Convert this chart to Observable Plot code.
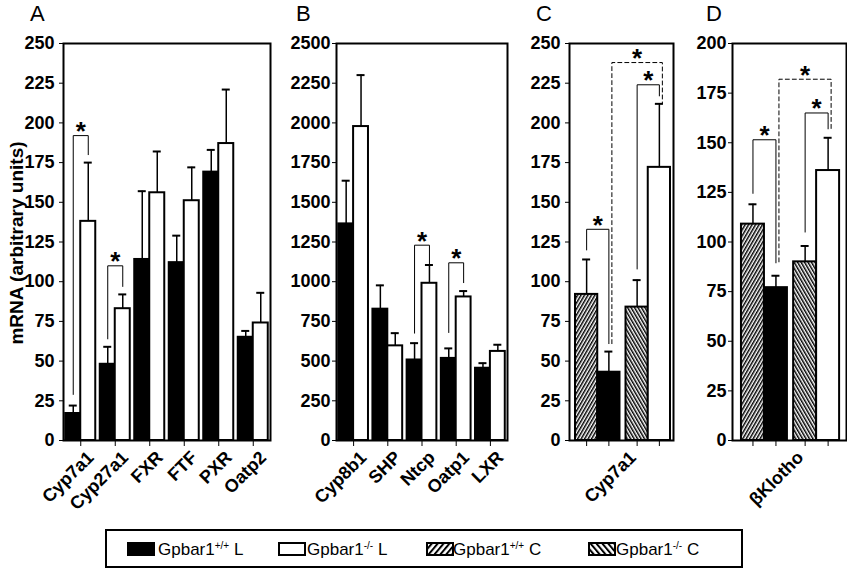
<!DOCTYPE html>
<html>
<head>
<meta charset="utf-8">
<script src="https://cdn.jsdelivr.net/npm/d3@7"></script>
<script src="https://cdn.jsdelivr.net/npm/@observablehq/plot@0.6"></script>
<style>
  html, body { margin: 0; padding: 0; background: #fff; }
  #wrap { position: relative; width: 847px; height: 570px; overflow: hidden; font-family: "Liberation Sans", Arial, sans-serif; color: #000; }
  .panel { position: absolute; top: 0; }
  .panel g[aria-label$="tick label"] text { font-size: 18px !important; font-weight: bold; }
  .letter { position: absolute; top: 3px; font-size: 22px; line-height: 22px; font-weight: normal; }
  .ylab { position: absolute; left: 17px; top: 243px; transform: translate(-50%, -50%) rotate(-90deg); white-space: nowrap; font-size: 19px; font-weight: bold; }
  .lg { position: absolute; font-size: 17px; line-height: 17px; white-space: nowrap; }
  .lg sup { font-size: 10px; vertical-align: 6px; line-height: 0; }
  .sw { position: absolute; }
</style>
</head>
<body>
<svg width="0" height="0" style="position:absolute">
  <defs>
    <pattern id="hatchF" patternUnits="userSpaceOnUse" width="3" height="10" patternTransform="rotate(30)">
      <rect width="3" height="10" fill="white"/><rect width="1.5" height="10" fill="black"/>
    </pattern>
    <pattern id="hatchB" patternUnits="userSpaceOnUse" width="3" height="10" patternTransform="rotate(-30)">
      <rect width="3" height="10" fill="white"/><rect width="1.5" height="10" fill="black"/>
    </pattern>
    <pattern id="hatchF2" patternUnits="userSpaceOnUse" width="4.5" height="10" patternTransform="rotate(40)">
      <rect width="4.5" height="10" fill="white"/><rect width="2" height="10" fill="black"/>
    </pattern>
    <pattern id="hatchB2" patternUnits="userSpaceOnUse" width="4.5" height="10" patternTransform="rotate(-40)">
      <rect width="4.5" height="10" fill="white"/><rect width="2" height="10" fill="black"/>
    </pattern>
  </defs>
</svg>
<div id="wrap"></div>
<script>
// ---------------- data ----------------
// Panel A
const catsA = ["Cyp7a1", "Cyp27a1", "FXR", "FTF", "PXR", "Oatp2"];
const wtA = [17, 48, 114, 112, 169, 65];
const wtErrA = [22, 59, 157, 129, 183, 69];
const koA = [138, 83, 156, 151, 187, 74];
const koErrA = [175, 92, 182, 172, 221, 93];
const bracketsA = [
  { cat: 0, yFrom: 29, yTop: 192, yTo: 180 },
  { cat: 1, yFrom: 64, yTop: 110, yTo: 97 }
];
const ticksA = [0, 25, 50, 75, 100, 125, 150, 175, 200, 225, 250];

// Panel B
const catsB = ["Cyp8b1", "SHP", "Ntcp", "Oatp1", "LXR"];
const wtB = [1364, 827, 507, 517, 455];
const wtErrB = [1636, 977, 613, 580, 487];
const koB = [1977, 596, 990, 904, 561];
const koErrB = [2301, 676, 1105, 941, 603];
const bracketsB = [
  { cat: 2, yFrom: 676, yTop: 1230, yTo: 1112 },
  { cat: 3, yFrom: 680, yTop: 1119, yTo: 994 }
];
const ticksB = [0, 250, 500, 750, 1000, 1250, 1500, 1750, 2000, 2250, 2500];

// Panels C and D (bar order: Gpbar1+/+ C, Gpbar1+/+ L, Gpbar1-/- C, Gpbar1-/- L)
const groupsCD = ["wtC", "wtL", "koC", "koL"];
const fillsCD = ["url(#hatchF)", "black", "url(#hatchB)", "white"];
const labelC = "Cyp7a1";
const valC = [92, 43, 84, 172];
const errC = [114, 56, 101, 212];
const bracketsC = [
  { from: 0, to: 1, yFrom: 120, yTop: 133, yTo: 61, dashed: false },
  { from: 2, to: 3, yFrom: 108, yTop: 224, yTo: 217, dashed: false },
  { from: 1, to: 3, yFrom: 61, yTop: 238, yTo: 212, dashed: true }
];
const ticksC = [0, 25, 50, 75, 100, 125, 150, 175, 200, 225, 250];

const labelD = "βKlotho";
const valD = [109, 77, 90, 136];
const errD = [119, 83, 98, 152.5];
const bracketsD = [
  { from: 0, to: 1, yFrom: 124.5, yTop: 151.5, yTo: 89.5, dashed: false },
  { from: 2, to: 3, yFrom: 105, yTop: 165, yTo: 157, dashed: false },
  { from: 1, to: 3, yFrom: 90, yTop: 182, yTo: 157, dashed: true }
];
const ticksD = [0, 25, 50, 75, 100, 125, 150, 175, 200];

const legendItems = [
  { fill: "black", base: "Gpbar1", sup: "+/+", suffix: " L" },
  { fill: "white", base: "Gpbar1", sup: "-/-", suffix: " L" },
  { fill: "url(#hatchF2)", base: "Gpbar1", sup: "+/+", suffix: " C" },
  { fill: "url(#hatchB2)", base: "Gpbar1", sup: "-/-", suffix: " C" }
];

// ---------------- helpers ----------------
const FONT = '"Liberation Sans", Arial, sans-serif';
const HALF = 0.435; // fraction of a category slot per bar (paired panels)
const GAP = 0.27;   // gap between pairs in C/D (in bar units)

function pairedRows(cats, wt, wtErr, ko, koErr) {
  const rows = [];
  cats.forEach((c, i) => {
    rows.push({ x1: i - HALF, x2: i, c: i - HALF / 2, y: wt[i], err: wtErr[i], fill: "black" });
    rows.push({ x1: i, x2: i + HALF, c: i + HALF / 2, y: ko[i], err: koErr[i], fill: "white" });
  });
  return rows;
}
function pairedPaths(brackets) {
  const pts = [];
  brackets.forEach((b, k) => {
    const xl = b.cat - HALF / 2, xr = b.cat + HALF / 2;
    pts.push({ id: k, x: xl, y: b.yFrom }, { id: k, x: xl, y: b.yTop }, { id: k, x: xr, y: b.yTop }, { id: k, x: xr, y: b.yTo });
  });
  return pts;
}
const posCD = groupsCD.map((g, j) => j + (j >= 2 ? GAP : 0));
function cdRows(vals, errs) {
  return groupsCD.map((g, j) => ({ x1: posCD[j] - 0.5, x2: posCD[j] + 0.5, c: posCD[j], y: vals[j], err: errs[j], fill: fillsCD[j] }));
}
function cdPaths(brackets, dashed) {
  const pts = [];
  brackets.forEach((b, k) => {
    if (b.dashed !== dashed) return;
    const xl = posCD[b.from], xr = posCD[b.to];
    pts.push({ id: k, x: xl, y: b.yFrom }, { id: k, x: xl, y: b.yTop }, { id: k, x: xr, y: b.yTop }, { id: k, x: xr, y: b.yTo });
  });
  return pts;
}

function panel({ rows, solid, dashed, stars, dashedStars, xDomain, tickPos, labelPos, labelFmt, yDomain, yTicks, yPad, width, marginLeft, marginRight }) {
  const marks = [
    Plot.rectY(rows, { x1: "x1", x2: "x2", y: "y", fill: "fill", stroke: "black", strokeWidth: 2 }),
    Plot.ruleX(rows, { x: "c", y1: "y", y2: "err", stroke: "black", strokeWidth: 1.5 }),
    Plot.ruleY(rows, { y: "err", x1: "c", x2: "c", insetLeft: -4, insetRight: -4, stroke: "black", strokeWidth: 2 }),
    Plot.line(solid, { x: "x", y: "y", z: "id", stroke: "black", strokeWidth: 1 }),
    Plot.text(stars, { x: "x", y: "y", text: () => "*", fontSize: 26, fontWeight: "bold", dy: -4 }),
    Plot.axisY({ ticks: yTicks, tickFormat: d3.format("d"), tickSize: 4, tickPadding: yPad, label: null, fontSize: 18, fontWeight: "bold" }),
    // tick marks only
    Plot.axisX({ ticks: tickPos, tickFormat: () => "", tickSize: 6, label: null }),
    // rotated labels only
    Plot.axisX({ ticks: labelPos, tickFormat: labelFmt, tickSize: 0, tickPadding: 8, tickRotate: -45, label: null, fontSize: 18, fontWeight: "bold", dx: 10, dy: 6 }),
    Plot.frame({ stroke: "black", strokeWidth: 2 })
  ];
  if (dashed && dashed.length) {
    marks.push(Plot.line(dashed, { x: "x", y: "y", z: "id", stroke: "black", strokeWidth: 1, strokeDasharray: "4,3", dx: 3 }));
    marks.push(Plot.text(dashedStars, { x: "x", y: "y", text: () => "*", fontSize: 26, fontWeight: "bold", dy: -4, dx: 3 }));
  }
  return Plot.plot({
    width, height: 520,
    marginLeft, marginRight, marginTop: 43, marginBottom: 80,
    x: { domain: xDomain },
    y: { domain: yDomain },
    color: { type: "identity" },
    style: { fontFamily: FONT, fontSize: "18px", fontWeight: "bold", background: "transparent", overflow: "visible", color: "black" },
    marks
  });
}

function starsFromPaired(brackets) {
  return brackets.map(b => ({ x: b.cat, y: b.yTop }));
}
function starsFromCD(brackets, dashed) {
  return brackets.filter(b => b.dashed === dashed).map(b => ({ x: (posCD[b.from] + posCD[b.to]) / 2, y: b.yTop }));
}

const wrap = document.getElementById("wrap");
function place(node, left) {
  node.classList.add("panel");
  node.style.left = left + "px";
  node.style.top = "0px";
  node.style.position = "absolute";
  node.style.maxWidth = "none";
  wrap.appendChild(node);
}

const idxA = catsA.map((c, i) => i);
const idxB = catsB.map((c, i) => i);
const centerCD = (posCD[0] + posCD[3]) / 2;

// Panel A
place(panel({
  rows: pairedRows(catsA, wtA, wtErrA, koA, koErrA),
  solid: pairedPaths(bracketsA), stars: starsFromPaired(bracketsA),
  xDomain: [-0.5, catsA.length - 0.5],
  tickPos: idxA, labelPos: idxA, labelFmt: d => catsA[d],
  yDomain: [0, 250], yTicks: ticksA, yPad: 5,
  width: 280, marginLeft: 63, marginRight: 10
}), 0);

// Panel B
place(panel({
  rows: pairedRows(catsB, wtB, wtErrB, koB, koErrB),
  solid: pairedPaths(bracketsB), stars: starsFromPaired(bracketsB),
  xDomain: [-0.5, catsB.length - 0.5],
  tickPos: idxB, labelPos: idxB, labelFmt: d => catsB[d],
  yDomain: [0, 2500], yTicks: ticksB, yPad: 2,
  width: 240, marginLeft: 61, marginRight: 8
}), 275);

// Panel C
place(panel({
  rows: cdRows(valC, errC),
  solid: cdPaths(bracketsC, false), dashed: cdPaths(bracketsC, true),
  stars: starsFromCD(bracketsC, false), dashedStars: starsFromCD(bracketsC, true),
  xDomain: [-0.77, 3.5 + GAP + 0.135],
  tickPos: posCD, labelPos: [centerCD], labelFmt: () => labelC,
  yDomain: [0, 250], yTicks: ticksC, yPad: 5,
  width: 165, marginLeft: 54, marginRight: 7
}), 515);

// Panel D
place(panel({
  rows: cdRows(valD, errD),
  solid: cdPaths(bracketsD, false), dashed: cdPaths(bracketsD, true),
  stars: starsFromCD(bracketsD, false), dashedStars: starsFromCD(bracketsD, true),
  xDomain: [-0.89, 3.5 + GAP + 0.3],
  tickPos: posCD, labelPos: [centerCD], labelFmt: () => labelD,
  yDomain: [0, 200], yTicks: ticksD, yPad: 2,
  width: 167, marginLeft: 52, marginRight: 1
}), 680);

// Panel letters
[["A", 30], ["B", 296], ["C", 536], ["D", 706]].forEach(([t, x]) => {
  const d = document.createElement("div");
  d.className = "letter"; d.textContent = t; d.style.left = x + "px";
  wrap.appendChild(d);
});

// Y-axis title
const yl = document.createElement("div");
yl.className = "ylab"; yl.textContent = "mRNA (arbitrary units)";
wrap.appendChild(yl);

// Legend
const box = document.createElement("div");
box.style.cssText = "position:absolute;left:105px;top:529px;width:638px;height:39px;box-sizing:border-box;border:2px solid black;";
wrap.appendChild(box);
const swX = [127, 278, 426, 588];
const txX = [158, 307, 453, 616];
legendItems.forEach((it, i) => {
  const s = document.createElementNS("http://www.w3.org/2000/svg", "svg");
  s.setAttribute("width", 28); s.setAttribute("height", 14);
  s.setAttribute("class", "sw");
  s.style.left = swX[i] + "px"; s.style.top = "542px";
  const r = document.createElementNS("http://www.w3.org/2000/svg", "rect");
  r.setAttribute("x", 1); r.setAttribute("y", 1); r.setAttribute("width", 26); r.setAttribute("height", 12);
  r.setAttribute("fill", it.fill); r.setAttribute("stroke", "black"); r.setAttribute("stroke-width", 2);
  s.appendChild(r);
  wrap.appendChild(s);
  const t = document.createElement("div");
  t.className = "lg"; t.style.left = txX[i] + "px"; t.style.top = "541px";
  t.innerHTML = it.base + "<sup>" + it.sup + "</sup>" + it.suffix;
  wrap.appendChild(t);
});
</script>
</body>
</html>
